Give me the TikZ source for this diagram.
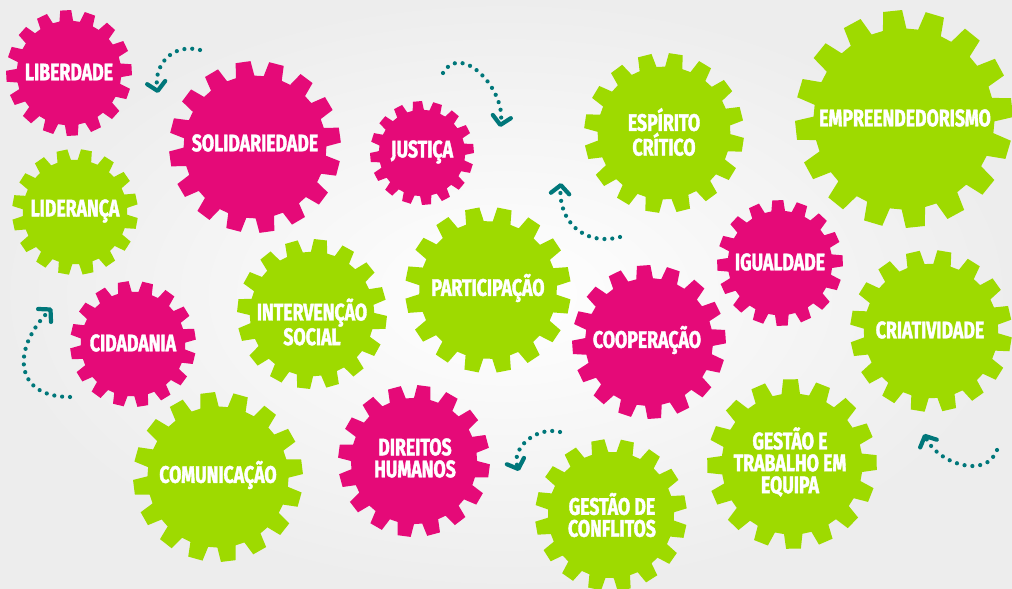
\documentclass[tikz,border=0pt]{standalone}
\usepackage{fontspec}
\newfontfamily\gearfont{Fira Sans}[FakeStretch=0.74, BoldFeatures={FakeBold=1.6}]
\usetikzlibrary{arrows.meta}

\definecolor{cogpink}{HTML}{E50A78}
\definecolor{coggreen}{HTML}{9EDA00}
\definecolor{arrowteal}{HTML}{00777A}

% one cog wheel: #1 centre, #2 outer radius, #3 turn, #4 colour
\newcommand{\cog}[4]{%
  \fill[#4, shift={#1}, rotate=#3]
    (-7.5:0.83*#2) \foreach \t in {0,22.5,...,340}{
      -- (\t-7.5:0.83*#2) -- (\t-5:#2) -- (\t+5:#2) -- (\t+7.5:0.83*#2)
    } -- cycle;
}

\tikzset{
  x=0.025cm, y=0.025cm, % one unit is one pixel of the layout
  word/.style={text=white, align=center, inner sep=0pt,
    font=\gearfont\bfseries\fontsize{17}{15.6}\selectfont}, % the label inside a cog
  turn/.style={arrowteal, line width=3pt, line cap=round,
    dash pattern=on 0pt off 5.6pt,
    -{Straight Barb[length=6pt, width=13pt, round]}}, % the dotted turning arrows
}

\begin{document}
\begin{tikzpicture}
  \useasboundingbox (0,0) rectangle (1012,-589);
  \shade[inner color=white, outer color=black!7] (0,0) rectangle (1012,-589);

  % cogs
  \cog{(69,-73)}{63}{3}{cogpink}
  \cog{(255,-147)}{86}{8}{cogpink}
  \cog{(75,-212)}{63}{12}{coggreen}
  \cog{(422,-153)}{52}{5}{cogpink}
  \cog{(664,-133)}{80}{14}{coggreen}
  \cog{(904,-119)}{109}{6}{coggreen}
  \cog{(488,-290)}{83}{11}{coggreen}
  \cog{(780,-263)}{63}{2}{cogpink}
  \cog{(312,-314)}{75}{16}{coggreen}
  \cog{(133,-344)}{63}{9}{cogpink}
  \cog{(649,-342)}{77}{4}{cogpink}
  \cog{(931,-331)}{81}{13}{coggreen}
  \cog{(218,-477)}{85}{7}{coggreen}
  \cog{(414,-461)}{76}{15}{cogpink}
  \cog{(611,-515)}{76}{10}{coggreen}
  \cog{(792,-464)}{85}{1}{coggreen}

  % labels
  \node[word] (liberdade) at (69,-72) {LIBERDADE};
  \node[word] (solidariedade) at (255,-143) {SOLIDARIEDADE};
  \node[word] (lideranca) at (75,-211) {LIDERANÇA};
  \node[word] (justica) at (422,-152) {JUSTIÇA};
  \node[word] (espirito) at (664,-132) {ESPÍRITO\\CRÍTICO};
  \node[word] (empreend) at (905,-118) {EMPREENDEDORISMO};
  \node[word] (participacao) at (488,-288) {PARTICIPAÇÃO};
  \node[word] (igualdade) at (780,-262) {IGUALDADE};
  \node[word] (intervencao) at (312,-322) {INTERVENÇÃO\\SOCIAL};
  \node[word] (cidadania) at (133,-343) {CIDADANIA};
  \node[word] (cooperacao) at (647,-340) {COOPERAÇÃO};
  \node[word] (criatividade) at (930,-330) {CRIATIVIDADE};
  \node[word] (comunicacao) at (218,-475) {COMUNICAÇÃO};
  \node[word] (direitos) at (415,-458) {DIREITOS\\HUMANOS};
  \node[word] (conflitos) at (612,-515) {GESTÃO DE\\CONFLITOS};
  \node[word] (equipa) at (790,-462) {GESTÃO E\\TRABALHO EM\\EQUIPA};

  % turning arrows
  \coordinate (t1a) at (200,-50);  \coordinate (t1b) at (158,-93);
  \coordinate (t2a) at (443,-73);  \coordinate (t2b) at (500,-127);
  \coordinate (t3a) at (620,-237); \coordinate (t3b) at (561,-183);
  \coordinate (t4a) at (70,-397);  \coordinate (t4b) at (52,-308);
  \coordinate (t5a) at (560,-432); \coordinate (t5b) at (519,-471);
  \coordinate (t6a) at (997,-450); \coordinate (t6b) at (924,-434);

  \draw[turn] (t1a) to[out=165, in=100, looseness=1.2] (t1b);
  \draw[turn] (t2a) to[out=60, in=80, looseness=1.2] (t2b);
  \draw[turn] (t3a) to[out=195, in=-95, looseness=1.2] (t3b);
  \draw[turn] (t4a) to[out=180, in=-135, looseness=1.6] (t4b);
  \draw[turn] (t5a) to[out=165, in=110, looseness=1.1] (t5b);
  \draw[turn] (t6a) to[out=-110, in=-65, looseness=1.1] (t6b);
\end{tikzpicture}
\end{document}
